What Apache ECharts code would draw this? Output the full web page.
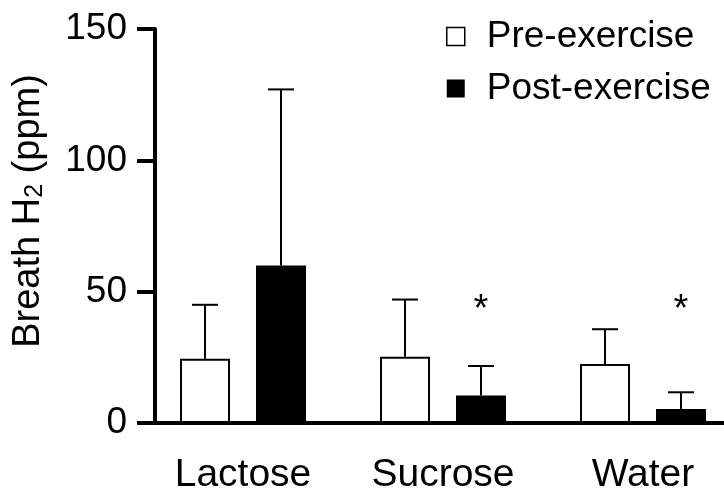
<!DOCTYPE html>
<html><head><meta charset="utf-8">
<script src="https://cdn.jsdelivr.net/npm/echarts@6/dist/echarts.min.js"></script>
<style>html,body{margin:0;padding:0;background:#fff}#c{width:724px;height:494px}</style>
</head><body><div id="c"></div>
<script>
const categories = ['Lactose', 'Sucrose', 'Water'];
const preMean = [24.5, 25.2, 22.5];
const preSD = [20.5, 21.8, 13.2];
const postMean = [60, 10.5, 5.3];
const postSD = [67, 11.2, 6.4];
const sigMarks = ['', '*', '*'];
const sigLevel = 43;
const yTicks = [0, 50, 100, 150];

const FONT = '"Liberation Sans", Arial, sans-serif';
const BAR_W = 50, GAP = 0.52;
const OFF = (BAR_W + BAR_W * GAP) / 2;

function errSeries(name, mean, sd, dir) {
  return {
    type: 'custom', name: name + ' err', z: 3, silent: true,
    data: mean.map((m, i) => [i, m, m + sd[i]]),
    renderItem(params, api) {
      const b = api.coord([api.value(0), api.value(1)]);
      const t = api.coord([api.value(0), api.value(2)]);
      const x = b[0] + dir * OFF;
      return { type: 'group', children: [
        { type: 'line', shape: { x1: x, y1: b[1], x2: x, y2: t[1] }, style: { stroke: '#000', lineWidth: 2 } },
        { type: 'line', shape: { x1: x - 13, y1: t[1], x2: x + 13, y2: t[1] }, style: { stroke: '#000', lineWidth: 2 } }
      ] };
    }
  };
}

const sigData = [];
sigMarks.forEach((s, i) => { if (s) sigData.push([i, sigLevel]); });

const chart = echarts.init(document.getElementById('c'), null, { renderer: 'canvas' });
chart.setOption({
  animation: false,
  backgroundColor: '#fff',
  textStyle: { fontFamily: FONT },
  grid: { left: 143, top: 29, width: 600, height: 394, containLabel: false, outerBoundsMode: 'none' },
  legend: {
    orient: 'vertical', left: 446, top: 18, padding: 0, itemWidth: 18, itemHeight: 18, itemGap: 15,
    data: [
      { name: 'Pre-exercise', icon: 'rect', itemStyle: { color: '#fff', borderColor: '#000', borderWidth: 1.5 } },
      { name: 'Post-exercise', icon: 'rect', itemStyle: { color: '#000', borderColor: '#000', borderWidth: 0 } }
    ],
    textStyle: { fontFamily: FONT, fontSize: 37, color: '#000', padding: [0, 0, 0, 17] }
  },
  xAxis: {
    type: 'category', data: categories,
    axisLine: { lineStyle: { color: '#000', width: 4 } },
    axisTick: { alignWithLabel: true, length: 18, lineStyle: { color: '#000', width: 4 } },
    axisLabel: { fontFamily: FONT, fontSize: 39, color: '#000', margin: 33 },
    splitLine: { show: false }
  },
  yAxis: {
    type: 'value', min: 0, max: 150, interval: 50, offset: -12,
    axisLine: { show: true, lineStyle: { color: '#000', width: 4 } },
    axisTick: { show: true, length: 18, lineStyle: { color: '#000', width: 4 } },
    axisLabel: { fontFamily: FONT, fontSize: 37, color: '#000', margin: 28,
      formatter: v => yTicks.includes(v) ? String(v) : '' },
    splitLine: { show: false }
  },
  graphic: [{
    type: 'text', x: 29, y: 211, rotation: Math.PI / 2,
    style: {
      text: 'Breath H{s|2} (ppm)', align: 'center', verticalAlign: 'middle',
      fontFamily: FONT, fontSize: 38, fill: '#000',
      rich: { s: { fontFamily: FONT, fontSize: 25, lineHeight: 6, verticalAlign: 'bottom' } }
    }
  }],
  series: [
    { type: 'bar', name: 'Pre-exercise', data: preMean, barWidth: BAR_W, barGap: (GAP * 100) + '%',
      itemStyle: { color: '#fff', borderColor: '#000', borderWidth: 2 }, z: 2 },
    { type: 'bar', name: 'Post-exercise', data: postMean, barWidth: BAR_W,
      itemStyle: { color: '#000', borderColor: '#000', borderWidth: 0 }, z: 2 },
    errSeries('Pre-exercise', preMean, preSD, -1),
    errSeries('Post-exercise', postMean, postSD, 1),
    {
      type: 'custom', name: 'sig', silent: true, z: 4,
      data: sigData,
      renderItem(params, api) {
        const p = api.coord([api.value(0), api.value(1)]);
        return { type: 'text', x: p[0] + OFF, y: p[1],
          style: { text: sigMarks[api.value(0)], align: 'center', verticalAlign: 'middle',
            fontFamily: FONT, fontSize: 38, fill: '#000' } };
      }
    }
  ]
});
</script>
</body></html>
